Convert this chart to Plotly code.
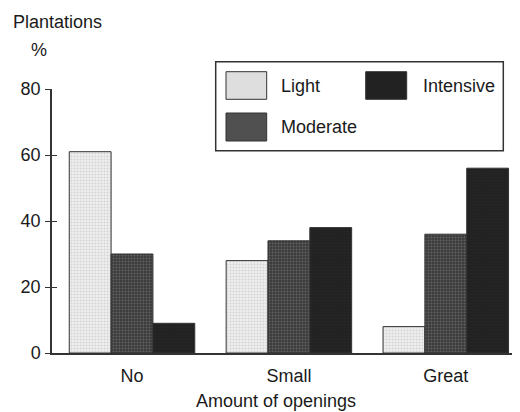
import plotly.graph_objects as go

categories = ["No", "Small", "Great"]
series_names = ["Light", "Moderate", "Intensive"]
light = [61, 28, 8]
moderate = [30, 34, 36]
intensive = [9, 38, 56]
y_ticks = [0, 20, 40, 60, 80]

FONT = "Liberation Sans, Arial, sans-serif"
FS = 18
INK = "#1a1a1a"

OFF = 8  # page body margin
W, H = 520 - OFF, 412 - OFF
# plot area in page pixels: x 52..520, y 89..353
L, T = 52 - OFF, 89 - OFF
R = 0
B = H - (353 - OFF)
PW, PH = W - L - R, H - T - B


def px(x):
    return (x - OFF - L) / PW


def py(y):
    return (H - B - (y - OFF)) / PH


styles = {
    "Light": dict(bg="#eeeeee", fg="#b8b8b8", solid=0.35, swatch="#dedede"),
    "Moderate": dict(bg="#3a3a3a", fg="#8a8a8a", solid=0.35, swatch="#505050"),
    "Intensive": dict(bg="#222222", fg="#2c2c2c", solid=0.2, swatch="#222222"),
}

fig = go.Figure()
for name, vals in zip(series_names, [light, moderate, intensive]):
    s = styles[name]
    fig.add_trace(go.Bar(
        x=categories, y=vals, name=name, showlegend=False,
        marker=dict(
            color=s["bg"],
            line=dict(color="#333333", width=1),
            pattern=dict(shape=".", fgcolor=s["fg"], bgcolor=s["bg"], size=3, solidity=s["solid"]),
        ),
    ))

fig.update_layout(
    width=W, height=H,
    margin=dict(l=L, r=R, t=T, b=B, pad=0),
    paper_bgcolor="white", plot_bgcolor="white",
    barmode="group", bargap=0.2, bargroupgap=0,
    font=dict(family=FONT, size=FS, color=INK),
    xaxis=dict(
        range=[-0.51, 2.473], showgrid=False, zeroline=False,
        showline=True, linecolor="#333333", linewidth=1.5,
        ticks="", ticklabelstandoff=6, tickfont=dict(size=FS, family=FONT, color=INK),
    ),
    yaxis=dict(
        range=[0, 80], tickvals=y_ticks, showgrid=False, zeroline=False,
        showline=True, linecolor="#333333", linewidth=1.5,
        ticks="outside", ticklen=5, tickwidth=1.2, tickcolor="#333333",
        tickfont=dict(size=FS, family=FONT, color=INK), ticklabelstandoff=1,
    ),
    yaxis2=dict(
        overlaying="y", matches="y", side="left", range=[0, 80], tickvals=y_ticks,
        showgrid=False, zeroline=False, showline=False, showticklabels=False,
        ticks="inside", ticklen=5, tickwidth=1.2, tickcolor="#333333",
    ),
)
# invisible trace to activate yaxis2 for crossing ticks
fig.add_trace(go.Scatter(x=[categories[0]], y=[0], yaxis="y2", mode="markers",
                         marker=dict(opacity=0), showlegend=False, hoverinfo="skip"))

annotations = [
    dict(text="Plantations", x=px(11), y=py(22), xanchor="left", yanchor="middle"),
    dict(text="%", x=px(38.5), y=py(50), xanchor="center", yanchor="middle"),
    dict(text="Amount of openings", x=px(276), y=py(401), xanchor="center", yanchor="middle"),
    dict(text="Light", x=px(279), y=py(85.5), xanchor="left", yanchor="middle"),
    dict(text="Intensive", x=px(421), y=py(85.5), xanchor="left", yanchor="middle"),
    dict(text="Moderate", x=px(279), y=py(127), xanchor="left", yanchor="middle"),
]
for a in annotations:
    fig.add_annotation(xref="paper", yref="paper", showarrow=False,
                       font=dict(family=FONT, size=FS, color=INK), **a)

shapes = [
    dict(x0=px(215.7), x1=px(503.3), y0=py(61.7), y1=py(150.7), fillcolor="white", line=dict(color="#333333", width=1.5)),
    dict(x0=px(226), x1=px(266.7), y0=py(71.7), y1=py(99.3), fillcolor=styles["Light"]["swatch"], line=dict(color="#333333", width=1)),
    dict(x0=px(365.7), x1=px(406.7), y0=py(71.7), y1=py(99.3), fillcolor=styles["Intensive"]["swatch"], line=dict(color="#333333", width=1)),
    dict(x0=px(226), x1=px(266.7), y0=py(113), y1=py(141), fillcolor=styles["Moderate"]["swatch"], line=dict(color="#333333", width=1)),
]
for s in shapes:
    fig.add_shape(type="rect", xref="paper", yref="paper", layer="above", **s)

fig.write_html("out.html")
